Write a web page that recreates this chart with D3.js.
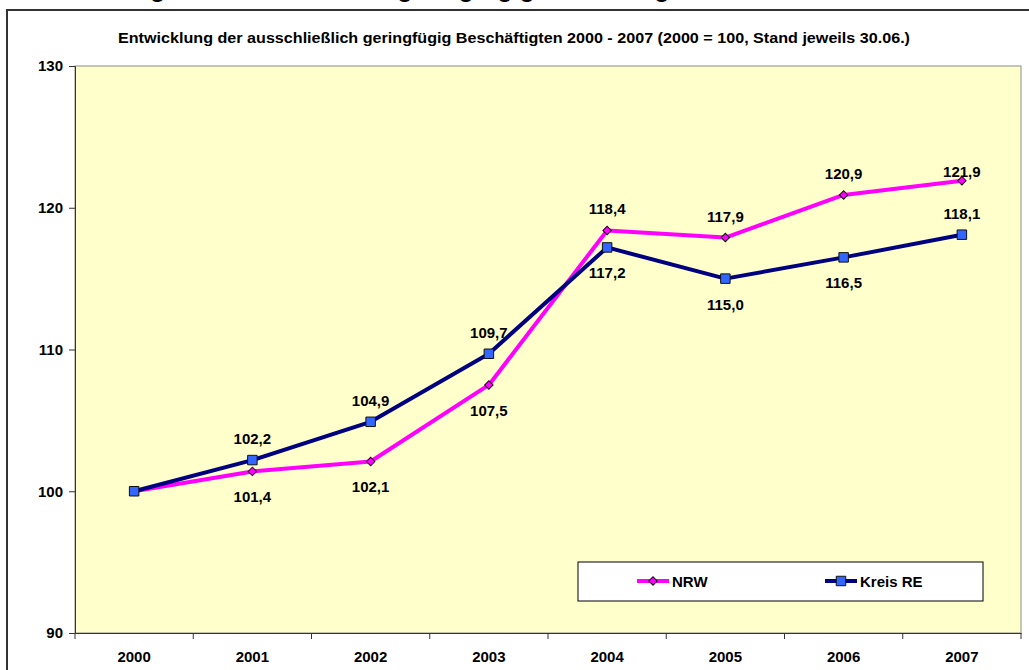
<!DOCTYPE html>
<html>
<head>
<meta charset="utf-8">
<script src="https://cdn.jsdelivr.net/npm/d3@7"></script>
<style>
  body { margin: 0; background: #fff; }
  svg { display: block; font-family: Arial, "Liberation Sans", sans-serif; }
</style>
</head>
<body>
<svg id="chart" width="1029" height="670"></svg>
<script>
// values (2000 = 100)
const years = ['2000', '2001', '2002', '2003', '2004', '2005', '2006', '2007'];
const nrw = [100, 101.4, 102.1, 107.5, 118.4, 117.9, 120.9, 121.9];
const kreisRE = [100, 102.2, 104.9, 109.7, 117.2, 115.0, 116.5, 118.1];
// where each value label sits: a = above, b = below, t = just over the marker, '' = none
const nrwLabelPos = ['', 'b', 'b', 'b', 'a', 'a', 'a', 't'];
const kreisLabelPos = ['', 'a', 'a', 'a', 'b', 'b', 'b', 'a'];
const yTicks = [90, 100, 110, 120, 130];

const svg = d3.select('#chart');
const plot = {left: 75, top: 66, right: 1021, bottom: 633};

const fmt = v => d3.format('.1f')(v).replace('.', ',');

// outer chart frame (runs off the right and bottom edge)
svg.append('rect')
  .attr('x', 7).attr('y', 10)
  .attr('width', 1060).attr('height', 700)
  .attr('fill', '#fff')
  .attr('stroke', '#333').attr('stroke-width', 2);

// header text, cut off by the top edge as in the original
svg.append('text')
  .attr('x', 18).attr('y', -3)
  .attr('font-size', 25).attr('font-weight', 'bold')
  .text('Entwicklung der ausschließlich geringfügig Beschäftigten');

svg.append('text')
  .attr('x', 514).attr('y', 43)
  .attr('text-anchor', 'middle')
  .attr('font-size', 15).attr('font-weight', 'bold')
  .attr('textLength', 792).attr('lengthAdjust', 'spacingAndGlyphs')
  .text('Entwicklung der ausschließlich geringfügig Beschäftigten 2000 - 2007 (2000 = 100, Stand jeweils 30.06.)');

const x = d3.scaleBand().domain(years).range([plot.left, plot.right]);
const y = d3.scaleLinear().domain([90, 130]).range([plot.bottom, plot.top]);
const cx = d => x(d) + x.bandwidth() / 2;

// plot area
svg.append('rect')
  .attr('x', plot.left).attr('y', plot.top)
  .attr('width', plot.right - plot.left).attr('height', plot.bottom - plot.top)
  .attr('fill', '#ffffcc')
  .attr('stroke', '#8c8c8c').attr('stroke-width', 1);

// y axis
const yAxis = svg.append('g')
  .attr('transform', `translate(${plot.left},0)`)
  .call(d3.axisLeft(y).tickValues(yTicks).tickSize(6).tickPadding(6));
yAxis.select('.domain').attr('stroke', '#333');
yAxis.selectAll('.tick line').attr('stroke', '#333');
yAxis.selectAll('text')
  .attr('font-size', 15).attr('font-weight', 'bold').attr('fill', '#000')
  .attr('font-family', 'Arial, "Liberation Sans", sans-serif');

// x axis: labels centred in each band, ticks on the band borders
const xAxis = svg.append('g')
  .attr('transform', `translate(0,${plot.bottom})`)
  .call(d3.axisBottom(x).tickSize(0).tickPadding(18));
xAxis.select('.domain').attr('stroke', '#333');
xAxis.selectAll('text')
  .attr('font-size', 15).attr('font-weight', 'bold').attr('fill', '#000')
  .attr('font-family', 'Arial, "Liberation Sans", sans-serif');
const borders = years.map(d => x(d)).concat([plot.right]);
xAxis.selectAll('line.border')
  .data(borders)
  .enter().append('line')
    .attr('class', 'border')
    .attr('x1', d => d).attr('x2', d => d)
    .attr('y1', 0).attr('y2', 6)
    .attr('stroke', '#333');

const line = d3.line()
  .x((d, i) => cx(years[i]))
  .y(d => y(d));

const diamond = d3.symbol(d3.symbolSquare, 36);
const square = d3.symbol(d3.symbolSquare, 90);

const series = [
  {name: 'NRW', values: nrw, pos: nrwLabelPos, color: '#ff00ff', width: 4,
    marker: diamond, rotate: 45, fill: '#ff00ff'},
  {name: 'Kreis RE', values: kreisRE, pos: kreisLabelPos, color: '#000080', width: 4,
    marker: square, rotate: 0, fill: '#3366ff'}
];

series.forEach(s => {
  svg.append('path')
    .datum(s.values)
    .attr('d', line)
    .attr('fill', 'none')
    .attr('stroke', s.color)
    .attr('stroke-width', s.width)
    .attr('stroke-linejoin', 'round');
  svg.selectAll(null)
    .data(s.values)
    .enter().append('path')
      .attr('d', s.marker)
      .attr('transform', (d, i) => `translate(${cx(years[i])},${y(d)}) rotate(${s.rotate})`)
      .attr('fill', s.fill)
      .attr('stroke', '#111')
      .attr('stroke-width', 1);
});

// value labels
const offsets = {a: -16, b: 31, t: -4};
series.forEach(s => {
  svg.selectAll(null)
    .data(s.values.map((v, i) => ({v, i, p: s.pos[i]})).filter(d => d.p))
    .enter().append('text')
      .attr('x', d => cx(years[d.i]))
      .attr('y', d => y(d.v) + offsets[d.p])
      .attr('text-anchor', 'middle')
      .attr('font-size', 15).attr('font-weight', 'bold')
      .text(d => fmt(d.v));
});

// legend
const legend = svg.append('g');
legend.append('rect')
  .attr('x', 578).attr('y', 562)
  .attr('width', 405).attr('height', 39)
  .attr('fill', '#fff').attr('stroke', '#000');
const legendX = [637, 825];
series.forEach((s, i) => {
  const g = legend.append('g').attr('transform', `translate(${legendX[i]},581)`);
  g.append('line')
    .attr('x1', 0).attr('x2', 32)
    .attr('stroke', s.color).attr('stroke-width', s.width);
  g.append('path')
    .attr('d', s.marker)
    .attr('transform', `translate(16,0) rotate(${s.rotate})`)
    .attr('fill', s.fill).attr('stroke', '#111');
  g.append('text')
    .attr('x', 35).attr('y', 5.5)
    .attr('font-size', 15).attr('font-weight', 'bold')
    .text(s.name);
});
</script>
</body>
</html>
